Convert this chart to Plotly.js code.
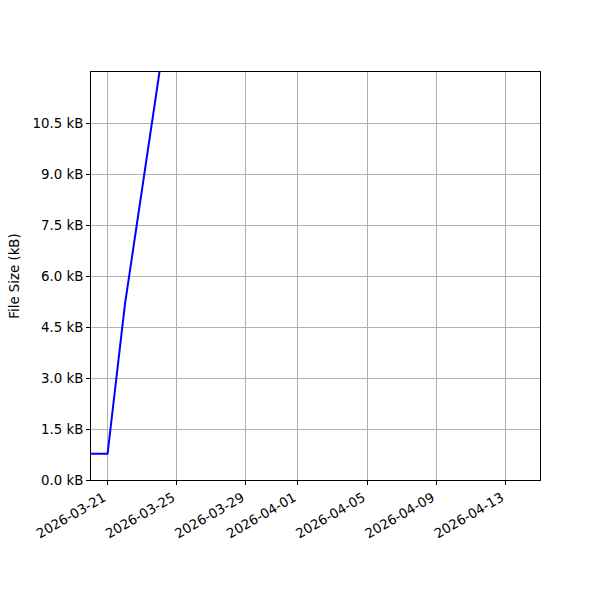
<!DOCTYPE html>
<html>
<head>
<meta charset="utf-8">
<script src="https://cdn.plot.ly/plotly-3.0.1.min.js"></script>
<style>
  html, body { margin: 0; padding: 0; background: #fff; }
  #chart { width: 600px; height: 600px; }
</style>
</head>
<body>
<div id="chart"></div>
<script>
// file size over time
const dates = ['2026-03-20', '2026-03-21', '2026-03-22', '2026-03-24'];
const sizesKB = [0.77, 0.77, 5.15, 12.0];

const xTickDates = ['2026-03-21', '2026-03-25', '2026-03-29', '2026-04-01',
                    '2026-04-05', '2026-04-09', '2026-04-13'];
const yTickVals = [0, 1.5, 3.0, 4.5, 6.0, 7.5, 9.0, 10.5];
const yTickText = yTickVals.map(v => v.toFixed(1) + ' kB');

const font = { family: 'DejaVu Sans, sans-serif', size: 13.33, color: '#000' };

let trace = {
  x: dates,
  y: sizesKB,
  type: 'scatter',
  mode: 'lines',
  line: { color: '#0000ff', width: 2 },
  hoverinfo: 'skip'
};

let axisCommon = {
  showline: true,
  linecolor: '#000',
  linewidth: 1,
  mirror: true,
  ticks: 'outside',
  ticklen: 4,
  tickwidth: 1,
  tickcolor: '#000',
  showgrid: true,
  gridcolor: '#b0b0b0',
  gridwidth: 1,
  zeroline: false,
  tickfont: font
};

let layout = {
  width: 600,
  height: 600,
  margin: { l: 91, r: 60, t: 72, b: 120 },
  paper_bgcolor: '#fff',
  plot_bgcolor: '#fff',
  showlegend: false,
  font: font,
  xaxis: Object.assign({}, axisCommon, {
    type: 'date',
    range: ['2026-03-20 01:00', '2026-04-15 00:00'],
    tickvals: xTickDates,
    ticktext: xTickDates,
    tickangle: -30,
    ticklabelshift: -4
  }),
  yaxis: Object.assign({}, axisCommon, {
    range: [0, 12],
    tickvals: yTickVals,
    ticktext: yTickText,
    title: { text: 'File Size (kB)', font: font, standoff: 9 }
  })
};

Plotly.newPlot('chart', [trace], layout, { displayModeBar: false, staticPlot: true });
</script>
</body>
</html>
